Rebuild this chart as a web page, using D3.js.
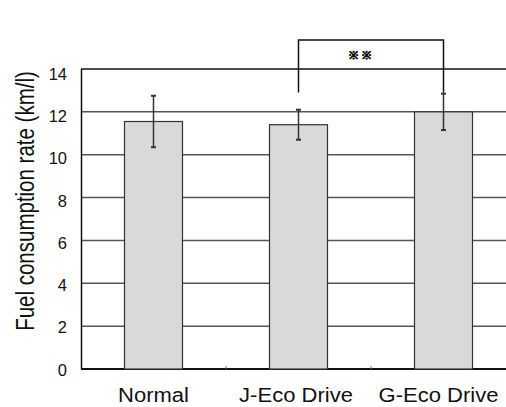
<!DOCTYPE html>
<html>
<head>
<meta charset="utf-8">
<script src="https://cdn.jsdelivr.net/npm/d3@7"></script>
<style>
	html, body {margin: 0; padding: 0; background: #fff;}
	svg {display: block;}
	text {font-family: "Liberation Sans", Arial, sans-serif; fill: #111;}
</style>
</head>
<body>
<svg id="chart" width="506" height="407"></svg>
<script>
const categories = ["Normal", "J-Eco Drive", "G-Eco Drive"];
const means = [11.55, 11.4, 12.0];
const errors = [1.2, 0.7, 0.85];
const yTicks = [0, 2, 4, 6, 8, 10, 12, 14];
const yLabel = "Fuel consumption rate (km/l)";
// significance bracket between two groups
const sigPair = ["J-Eco Drive", "G-Eco Drive"];
const sigTop = 15.35;
const sigLegEnd = 12.9;
const sigLabel = "※※";

const svg = d3.select("#chart");
const margin = {top: 69, right: -10, bottom: 38, left: 81};
const width = 506 - margin.left - margin.right;
const height = 407 - margin.top - margin.bottom;

const g = svg.append("g").attr("transform", `translate(${margin.left}, ${margin.top})`);

const x = d3.scaleBand().domain(categories).range([0, width]).padding(0);
const y = d3.scaleLinear().domain([0, 14]).range([height, 0]);
const barWidth = x.bandwidth() * 0.4;
const cx = (c) => x(c) + x.bandwidth() / 2;

// gridlines
g.selectAll(".grid")
.data(yTicks)
.enter()
.append("line")
.attr("class", "grid")
.attr("x1", 0)
.attr("x2", width)
.attr("y1", (d) => y(d))
.attr("y2", (d) => y(d))
.attr("stroke", (d) => (d === 14 || d === 0) ? "#111" : "#555")
.attr("stroke-width", (d) => d === 0 ? 2 : 1.5);

// left axis line
g.append("line")
.attr("x1", 0.5).attr("x2", 0.5)
.attr("y1", y(14)).attr("y2", y(0))
.attr("stroke", "#111")
.attr("stroke-width", 1.5);

// small ticks between categories
g.selectAll(".xtick")
.data(categories.slice(1))
.enter()
.append("line")
.attr("x1", (d) => x(d))
.attr("x2", (d) => x(d))
.attr("y1", y(0))
.attr("y2", y(0) - 3)
.attr("stroke", "#777")
.attr("stroke-width", 1);

// y tick labels
g.selectAll(".ylab")
.data(yTicks)
.enter()
.append("text")
.attr("x", -14)
.attr("y", (d) => y(d) + 1 + (d / 14) * 4)
.attr("dy", "0.35em")
.attr("text-anchor", "end")
.attr("font-size", "16.5px")
.text((d) => d);

// bars
const data = categories.map((c, i) => ({c, m: means[i], e: errors[i]}));

g.selectAll(".bar")
.data(data)
.enter()
.append("rect")
.attr("class", "bar")
.attr("x", (d) => cx(d.c) - barWidth / 2)
.attr("width", barWidth)
.attr("y", (d) => y(d.m))
.attr("height", (d) => y(0) - y(d.m))
.attr("fill", "#d9d9d9")
.attr("stroke", "#333")
.attr("stroke-width", 1.2);

// error bars
const err = g.selectAll(".err")
.data(data)
.enter()
.append("g")
.attr("class", "err")
.attr("stroke", "#333")
.attr("stroke-width", 1.5);

err.append("line")
.attr("x1", (d) => cx(d.c))
.attr("x2", (d) => cx(d.c))
.attr("y1", (d) => y(d.m + d.e))
.attr("y2", (d) => y(d.m - d.e));

err.selectAll(".cap")
.data((d) => [[d.c, d.m + d.e], [d.c, d.m - d.e]])
.enter()
.append("line")
.attr("x1", ([c]) => cx(c) - 2.5)
.attr("x2", ([c]) => cx(c) + 2.5)
.attr("y1", ([, v]) => y(v))
.attr("y2", ([, v]) => y(v))
.attr("stroke-width", 2);

// significance bracket
const bx1 = cx(sigPair[0]);
const bx2 = cx(sigPair[1]);
g.append("path")
.attr("d", `M${bx1},${y(sigLegEnd)}V${y(sigTop)}H${bx2}V${y(sigLegEnd)}`)
.attr("fill", "none")
.attr("stroke", "#111")
.attr("stroke-width", 1.5);

g.append("text")
.attr("x", (bx1 + bx2) / 2 - 9)
.attr("y", (y(sigTop) + y(14)) / 2 + 0.5)
.attr("dy", "0.35em")
.attr("text-anchor", "middle")
.attr("font-family", "'Noto Sans CJK JP', sans-serif")
.attr("font-weight", "bold")
.attr("font-size", "11px")
.attr("letter-spacing", "4.5px")
.attr("stroke", "#111")
.attr("stroke-width", 0.3)
.text(sigLabel);

// x labels (the original is a little stretched sideways)
g.selectAll(".xlab")
.data(categories)
.enter()
.append("text")
.attr("transform", (d, i) => `translate(${cx(d) - i * 2.5}, ${height + 33}) scale(1.13, 1)`)
.attr("text-anchor", "middle")
.attr("font-size", "19.5px")
.text((d) => d);

// y axis title
svg.append("text")
.attr("transform", `translate(34, 201) scale(1.22, 1) rotate(-90)`)
.attr("text-anchor", "middle")
.attr("font-size", "20.5px")
.text(yLabel);
</script>
</body>
</html>
